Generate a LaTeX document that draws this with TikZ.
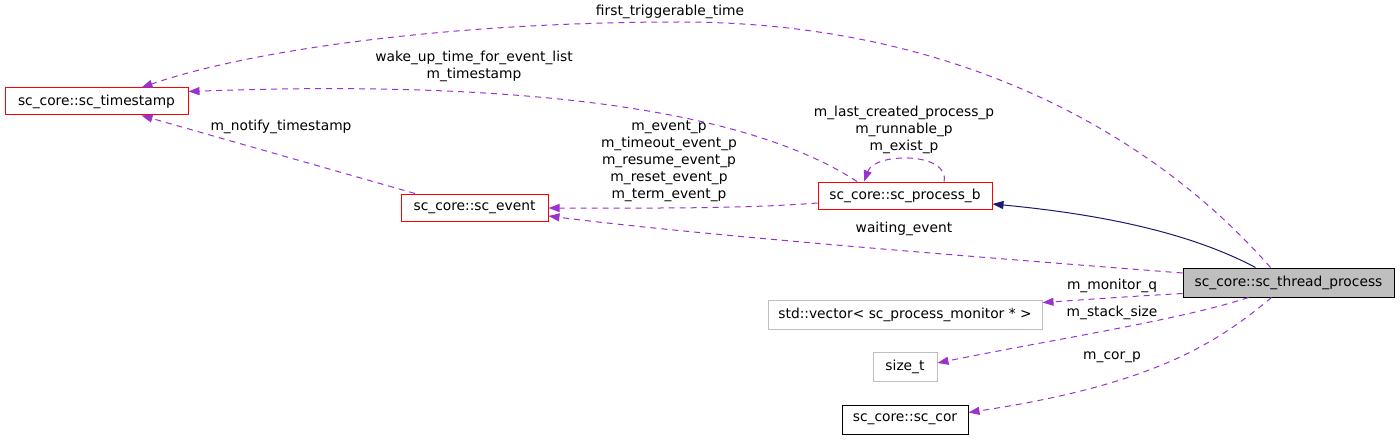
\documentclass[tikz,border=0pt]{standalone}
\usepackage{fontspec}
\setmainfont{DejaVu Sans}
\usetikzlibrary{arrows.meta,calc}
\definecolor{usecol}{HTML}{9A32CD}
\definecolor{inhcol}{HTML}{191970}
\definecolor{redbox}{HTML}{FF0000}
\definecolor{graybox}{HTML}{BFBFBF}
\begin{document}
\begin{tikzpicture}[x=1pt,y=-1pt,
  every node/.style={font=\fontsize{13.8}{17}\selectfont},
  cls/.style={draw, line width=1pt, inner sep=0pt, minimum height=27pt, fill=white},
  redcls/.style={cls, draw=redbox},
  graycls/.style={cls, draw=graybox, minimum height=29pt},
  blackcls/.style={cls, draw=black, minimum height=29pt},
  lbl/.style={align=center, inner sep=0pt, font=\fontsize{13.8}{17}\selectfont},
  uses/.style={draw=usecol, line width=1pt, dash pattern=on 6pt off 5pt,
    -{Triangle[length=11pt,width=8pt,fill=usecol,color=usecol]}},
  inh/.style={draw=inhcol, line width=1pt,
    -{Triangle[length=11pt,width=8pt,fill=inhcol,color=inhcol]}}]
\useasboundingbox (0,0) rectangle (1400,441);

\node[redcls, minimum width=183pt] (ts) at (96.5,101.5) {sc\_core::sc\_timestamp};
\node[redcls, minimum width=147pt] (ev) at (474.5,207.5) {sc\_core::sc\_event};
\node[redcls, minimum width=174pt] (pb) at (905,195.5) {sc\_core::sc\_process\_b};
\node[cls, draw=black, fill=graybox, minimum width=211pt, minimum height=29pt] (tp) at (1288.5,282.5) {sc\_core::sc\_thread\_process};
\node[graycls, minimum width=274pt] (vec) at (905,314.5) {std::vector\textless{} sc\_process\_monitor * \textgreater{}};
\node[graycls, minimum width=64pt] (st) at (905,366.5) {size\_t};
\node[blackcls, minimum width=126pt] (cor) at (905,419.5) {sc\_core::sc\_cor};

% edges
\draw[uses] ($(tp.north)+(-18,0)$) .. controls (1150,130) and (950,22) .. (680,22)
  .. controls (450,22) and (250,50) .. ($(ts.north)+(45,0)$);
\draw[uses] ($(pb.north)+(-48,0)$) .. controls (760,118) and (560,78) .. ($(ts.east)+(0,-10)$);
\draw[uses] ($(pb.west)+(0,7.5)$) .. controls (740,209) and (650,208) .. ($(ev.east)+(0,0.5)$);
\draw[uses] ($(tp.west)+(0,-9.5)$) .. controls (950,255) and (700,235) .. ($(ev.east)+(0,8.5)$);
\draw[uses] ($(ev.north)+(-59.5,0)$) -- ($(ts.south)+(45,0)$);
\draw[uses] ($(pb.north)+(39,0)$) .. controls (950,152) and (875,152) .. ($(pb.north)+(-41,0)$);
\draw[inh] ($(tp.north)+(-33,0)$) .. controls (1200,238) and (1120,216) .. ($(pb.east)+(0,8.5)$);
\draw[uses] ($(tp.west)+(0,11)$) .. controls (1120,297) and (1080,300) .. ($(vec.east)+(0,-12)$);
\draw[uses] ($(tp.south)+(-40,0)$) .. controls (1180,320) and (1050,340) .. ($(st.east)+(0,-3.5)$);
\draw[uses] ($(tp.south)+(-17,0)$) .. controls (1215,345) and (1150,385) .. ($(cor.east)+(0,-7)$);

% labels
\node[lbl] (l1) at (670,12) {first\_triggerable\_time};
\node[lbl] (l2) at (474,66) {wake\_up\_time\_for\_event\_list\\m\_timestamp};
\node[lbl] (l3) at (281,127) {m\_notify\_timestamp};
\node[lbl] (l4) at (904,130) {m\_last\_created\_process\_p\\m\_runnable\_p\\m\_exist\_p};
\node[lbl] (l5) at (669,161) {m\_event\_p\\m\_timeout\_event\_p\\m\_resume\_event\_p\\m\_reset\_event\_p\\m\_term\_event\_p};
\node[lbl] (l6) at (904,229) {waiting\_event};
\node[lbl] (l7) at (1112,286) {m\_monitor\_q};
\node[lbl] (l8) at (1112,313) {m\_stack\_size};
\node[lbl] (l9) at (1112,357) {m\_cor\_p};
\end{tikzpicture}
\end{document}
